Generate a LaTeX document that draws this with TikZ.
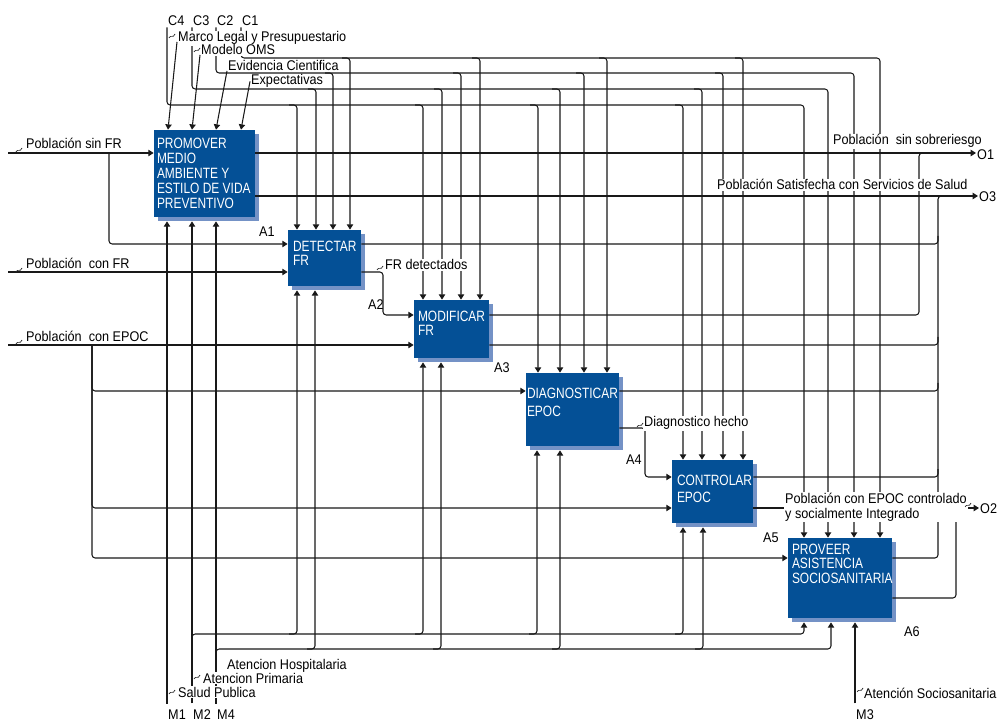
\documentclass[tikz,border=0pt]{standalone}
\usepackage{fontspec}
\newfontfamily\lblfont{Liberation Sans}[FakeStretch=0.9]
\newfontfamily\fnfont{Liberation Sans}[FakeStretch=0.8]
\usetikzlibrary{arrows.meta,positioning,calc,shadows}
\definecolor{idefblue}{RGB}{4,80,150}
\definecolor{idefshade}{RGB}{116,146,198}

\begin{document}
\begin{tikzpicture}[
  x=0.02cm, y=-0.02cm,
  fn/.style={fill=idefblue, inner sep=0pt, drop shadow={shadow xshift=0.08cm, shadow yshift=-0.08cm, fill=idefshade, opacity=1}},
  fntext/.style={anchor=north west, inner sep=0pt, text=white, align=left, font=\fnfont\fontsize{8.5}{8.6}\selectfont},
  note/.style={anchor=base west, inner sep=0.5pt, font=\lblfont\fontsize{8}{8.5}\selectfont},
  wnote/.style={note, fill=white},
  wire/.style={line width=0.6pt, black!90, rounded corners=1.8pt},
  flow/.style={wire, -{Triangle[length=3pt, width=3.6pt]}},
  lbltick/.pic={\draw[line width=0.4pt, black!85] (-3,2) .. controls (-1,-2) and (1,3) .. (3,-2);}
]
\useasboundingbox (0,0) rectangle (1000,722);

% activity boxes
\node[fn, minimum width=2.02cm, minimum height=1.74cm] (a1) at (204.5,173.5) {};
\node[fn, minimum width=1.46cm, minimum height=1.12cm] (a2) at (324.5,258) {};
\node[fn, minimum width=1.50cm, minimum height=1.16cm] (a3) at (451.5,329) {};
\node[fn, minimum width=1.86cm, minimum height=1.46cm] (a4) at (572.5,409.5) {};
\node[fn, minimum width=1.62cm, minimum height=1.26cm] (a5) at (712.5,491.5) {};
\node[fn, minimum width=2.08cm, minimum height=1.60cm] (a6) at (840,578) {};
\foreach \b in {a1,a2,a3,a4,a5,a6} \coordinate (\b-s) at ([yshift=-0.08cm]\b.south);

\node[fntext] (t1) at ([shift={(3,8)}]a1.north west) {PROMOVER\\MEDIO\\AMBIENTE Y\\ESTILO DE VIDA\\PREVENTIVO};
\node[fntext, font=\fnfont\fontsize{8.5}{7.9}\selectfont] (t2) at ([shift={(5,11)}]a2.north west) {DETECTAR\\FR};
\node[fntext, font=\fnfont\fontsize{8.5}{7.9}\selectfont] (t3) at ([shift={(4,11)}]a3.north west) {MODIFICAR\\FR};
\node[fntext, font=\fnfont\fontsize{8.5}{10.2}\selectfont] (t4) at ([shift={(1,15)}]a4.north west) {DIAGNOSTICAR\\EPOC};
\node[fntext, font=\fnfont\fontsize{8.5}{9.6}\selectfont] (t5) at ([shift={(5,15)}]a5.north west) {CONTROLAR\\EPOC};
\node[fntext, font=\fnfont\fontsize{8.5}{8.2}\selectfont] (t6) at ([shift={(4,6)}]a6.north west) {PROVEER\\ASISTENCIA\\SOCIOSANITARIA};

\node[note] (s1) at (258,237) {A1};
\node[note] (s2) at (367,310) {A2};
\node[note] (s3) at (493,373) {A3};
\node[note] (s4) at (625,464) {A4};
\node[note] (s5) at (762,542) {A5};
\node[note] (s6) at (903,636) {A6};

% tunnel labels
\node[note] (c4) at (167,26) {C4};
\node[note] (c3) at (192,26) {C3};
\node[note] (c2) at (216,26) {C2};
\node[note] (c1) at (241,26) {C1};
\node[note] (m1) at (167,719.5) {M1};
\node[note] (m2) at (192,719.5) {M2};
\node[note] (m4) at (216,719.5) {M4};
\node[note] (m3) at (855,719.5) {M3};
\node[note, anchor=west] (o1) at (976,155) {O1};
\node[note, anchor=west] (o3) at (978,197) {O3};
\node[note, anchor=west] (o2) at (979,509) {O2};
\coordinate (inA) at (8,153);
\coordinate (inB) at (8,272);
\coordinate (inC) at (8,345);

% controls
\draw[flow] (c4.south west) |- (804,105) -- (804,0 |- a6.north);
\draw[flow] (c3.south west) |- (828,89) -- (828,0 |- a6.north);
\draw[flow] (c2.south west) |- (854,73) -- (854,0 |- a6.north);
\draw[flow] (c1.south west) |- (880,58) -- (880,0 |- a6.north);
\foreach \x/\b in {297/a2,423/a3,538/a4,683/a5} \draw[flow] (\x-8,105) -| (\x,0 |- \b.north);
\foreach \x/\b in {316/a2,442/a3,560/a4,702/a5} \draw[flow] (\x-8,89) -| (\x,0 |- \b.north);
\foreach \x/\b in {333/a2,461/a3,584/a4,723/a5} \draw[flow] (\x-8,73) -| (\x,0 |- \b.north);
\foreach \x/\b in {350/a2,480/a3,607/a4,743/a5} \draw[flow] (\x-8,58) -| (\x,0 |- \b.north);

% inputs
\draw[flow] (inA) -- (a1.west |- inA);
\draw[flow] (109,153) |- (a2.west |- 0,244);
\draw[flow] (inB) -- (a2.west |- inB);
\draw[flow] (inC) -- (a3.west |- inC);
\draw[flow] (92,345) |- (a4.west |- 0,391);
\draw[flow] (92,345) |- (a5.west |- 0,508);
\draw[flow] (92,345) |- (a6.west |- 0,558);
\draw[flow] (a2.east |- 0,272) -- (383,272) |- (a3.west |- 0,315);
\draw[flow] (a4.east |- 0,428) -- (645,428) |- (a5.west |- 0,477);

% outputs
\draw[flow] (a1.east |- inA) -- (o1.west |- inA);
\draw[flow] (a1.east |- 0,196) -- (o3.west |- 0,196);
\draw[flow] (a5.east |- 0,508) -- (o2.west |- 0,508);
\draw[wire] (a3.east |- 0,315) -| (919,153) -- (925,153);
\draw[wire] (a6.east |- 0,558) -| (938,196) -- (944,196);
\foreach \b/\y in {a2/244,a3/345,a4/391,a5/477} \draw[wire] (\b.east |- 0,\y) -| (938,\y-8);
\draw[wire] (a6.east |- 0,598) -| (956,508) -- (962,508);

% mechanisms
\draw[flow] ([yshift=0.1cm]m1.north west) -- (m1.north west |- a1-s);
\draw[flow] ([yshift=0.1cm]m2.north west) -- (m2.north west |- a1-s);
\draw[flow] ([yshift=0.1cm]m4.north west) -- (m4.north west |- a1-s);
\draw[flow] ([yshift=0.1cm]m3.north west) -- (m3.north west |- a6-s);
\draw[flow] (192,640) |- (804,634) -- (804,0 |- a6-s);
\draw[flow] (216,655) |- (831,649) -- (831,0 |- a6-s);
\foreach \x/\b in {297/a2,423/a3,537/a4,683/a5} \draw[flow] (\x-8,634) -| (\x,0 |- \b-s);
\foreach \x/\b in {315/a2,441/a3,560/a4,703/a5} \draw[flow] (\x-8,649) -| (\x,0 |- \b-s);

% arrow labels
\node[wnote] (marco) at (177,42) {Marco Legal y Presupuestario};
\node[wnote] (oms) at (200,55) {Modelo OMS};
\node[note] (evid) at (227,71) {Evidencia Cientifica};
\node[note] (expec) at (250,85) {Expectativas};
\draw[flow] (marco.base west) -- (168,0 |- a1.north);
\draw[flow] (oms.base west) -- (192,0 |- a1.north);
\draw[flow] (evid.base west) -- (216,0 |- a1.north);
\draw[flow] (expec.west) -- (241,0 |- a1.north);

\node[note] (lblA) at (25,149) {Población sin FR};
\node[note] (lblB) at (25,269) {Población\ \ con FR};
\node[note] (lblC) at (25,342) {Población\ \ con EPOC};
\node[wnote] (lblD) at (384,270) {FR detectados};
\node[wnote] (lblE) at (643,427) {Diagnostico hecho};
\node[wnote] (lblF) at (832,145) {Población\ \ sin sobreriesgo};
\node[wnote] (lblG) at (716,190) {Población Satisfecha con Servicios de Salud};
\node[wnote, anchor=north west, align=left] (lblH) at (784,491.5) {Población con EPOC controlado\\y socialmente Integrado};
\node[wnote] (lblI) at (226,669) {Atencion Hospitalaria};
\node[wnote] (lblJ) at (202,683) {Atencion Primaria};
\node[wnote] (lblK) at (177,697) {Salud Publica};
\node[wnote] (lblL) at (863,698) {Atención Sociosanitaria};

\foreach \p in {(172,36),(197,50),(19,150),(19,270),(19,342),(380,268),(640,425),(968,505),(197,677),(172,692),(860,690)}
  \pic at \p {lbltick};

\end{tikzpicture}
\end{document}
